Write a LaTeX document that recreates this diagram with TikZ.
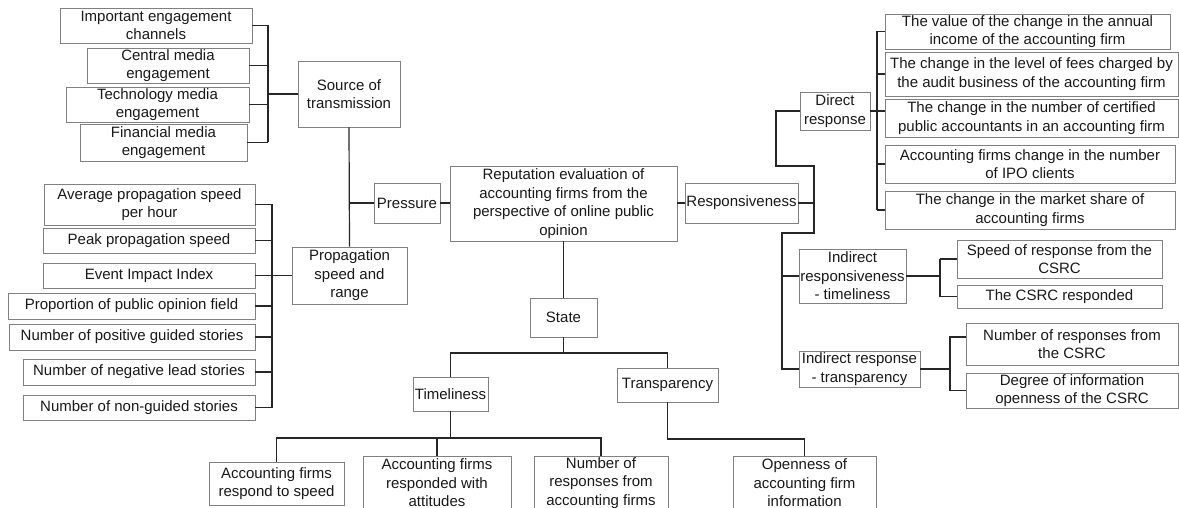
\documentclass[tikz,border=0pt]{standalone}
\usepackage{fontspec}
\setmainfont{Liberation Sans}
\newcommand{\mybox}[6]{%
  \pgfmathsetmacro\mbw{#4-#2}\pgfmathsetmacro\mbh{#5-#3}%
  \pgfmathsetmacro\mbcx{(#2+#4)/2}\pgfmathsetmacro\mbcy{(#3+#5)/2}%
  \node[box, minimum width=\mbw pt, minimum height=\mbh pt] (#1) at (\mbcx,\mbcy) {#6};}
\tikzset{
  box/.style={draw=black!50, line width=0.8pt, fill=white, inner sep=0pt, align=center,
    font=\fontsize{15}{18.5}\selectfont, text=black!90},
  conn/.style={draw=black!85, line width=1.2pt},
}
\begin{document}
\begin{tikzpicture}[x=1pt,y=-1pt]
\useasboundingbox (0,0) rectangle (1179,508);
\fill[white] (0,0) rectangle (1179,508);
% left top group
\mybox{A1}{60}{8}{252}{43}{Important engagement\\channels}
\mybox{A2}{87}{48}{249}{83}{Central media\\engagement}
\mybox{A3}{66}{87}{249}{122}{Technology media\\engagement}
\mybox{A4}{80}{124}{247}{161}{Financial media\\engagement}
\mybox{Src}{298}{61}{400}{127}{Source of\\transmission}
% left bottom group
\mybox{B1}{44}{184}{255}{225}{Average propagation speed\\per hour}
\mybox{B2}{43}{228}{255}{253}{Peak propagation speed}
\mybox{B3}{43}{263}{255}{288}{Event Impact Index}
\mybox{B4}{8}{293}{255}{319}{Proportion of public opinion field}
\mybox{B5}{9}{324}{255}{350}{Number of positive guided stories}
\mybox{B6}{23}{359}{255}{385}{Number of negative lead stories}
\mybox{B7}{23}{395}{255}{420}{Number of non-guided stories}
\mybox{Prop}{292}{247}{407}{304}{Propagation\\speed and\\range}
% centre
\mybox{Pr}{374}{183}{440}{223}{Pressure}
\mybox{Ctr}{450}{166}{677}{241}{Reputation evaluation of\\accounting firms from the\\perspective of online public\\opinion}
\mybox{Resp}{685}{183}{798}{223}{Responsiveness}
\mybox{St}{530}{298}{597}{337}{State}
\mybox{Tim}{413}{377}{488}{411}{Timeliness}
\mybox{Tr}{617}{368}{718}{402}{Transparency}
% bottom
\mybox{C1}{209}{462}{344}{505}{Accounting firms\\respond to speed}
\mybox{C2}{363}{456}{511}{510}{Accounting firms\\responded with\\attitudes}
\mybox{C3}{534}{456}{668}{510}{Number of\\responses from\\accounting firms}
\mybox{C4}{733}{456}{876}{510}{Openness of\\accounting firm\\information}
% right
\mybox{Dir}{800}{92}{870}{130}{Direct\\response}
\mybox{R1}{885}{14}{1170}{49}{The value of the change in the annual\\income of the accounting firm}
\mybox{R2}{885}{52}{1178}{96}{The change in the level of fees charged by\\the audit business of the accounting firm}
\mybox{R3}{885}{99}{1178}{137}{The change in the number of certified\\public accountants in an accounting firm}
\mybox{R4}{885}{145}{1175}{183}{Accounting firms change in the number\\of IPO clients}
\mybox{R5}{885}{191}{1175}{229}{The change in the market share of\\accounting firms}
\mybox{IRt}{799}{249}{906}{303}{Indirect\\responsiveness\\- timeliness}
\mybox{IRr}{799}{351}{920}{387}{Indirect response\\- transparency}
\mybox{S1}{957}{240}{1162}{278}{Speed of response from the\\CSRC}
\mybox{S2}{957}{285}{1162}{308}{The CSRC responded}
\mybox{T1}{966}{323}{1178}{365}{Number of responses from\\the CSRC}
\mybox{T2}{966}{373}{1178}{408}{Degree of information\\openness of the CSRC}
% coordinates
\coordinate (bA) at (268,0);
\coordinate (bB) at (272,0);
\coordinate (stY) at (563.5,353);
\coordinate (tY) at (0,438);
\coordinate (oY) at (0,439);
\coordinate (r1) at (776,166);
\coordinate (r2) at (814,233);
\coordinate (r3) at (782,233);
\coordinate (dB) at (877,0);
\coordinate (sB) at (940,0);
\coordinate (tB) at (950,0);
% left top connectors
\foreach \n in {A1,A2,A3,A4} {\draw[conn] (\n.east) -- (\n.east -| bA);}
\draw[conn] (A1.east -| bA) -- (A4.east -| bA);
\draw[conn] (Src.west) -- (Src.west -| bA);
% left bottom connectors
\foreach \n in {B1,B2,B3,B4,B5,B6,B7} {\draw[conn] (\n.east) -- (\n.east -| bB);}
\draw[conn] (B1.east -| bB) -- (B7.east -| bB);
\draw[conn] (Prop.west) -- (Prop.west -| bB);
% source / propagation / pressure
\draw[conn] (Src.south) -- (Prop.north);
\draw[conn] (Pr.west) -- (Pr.west -| Src.south);
\draw[conn] (Pr.east) -- (Pr.east -| Ctr.west);
\draw[conn] (Ctr.east |- Resp.west) -- (Resp.west);
% state
\draw[conn] (Ctr.south -| St.north) -- (St.north);
\draw[conn] (St.south) -- (stY);
\draw[conn] (Tim.north) |- (stY) -| (Tr.north);
% bottom
\draw[conn] (Tim.south) -- (Tim.south |- tY);
\draw[conn] (C1.north) -- (C1.north |- tY) -- (C3.north |- tY) -- (C3.north);
\draw[conn] (C2.north) -- (C2.north |- tY);
\draw[conn] (Tr.south) -- (Tr.south |- oY) -| (C4.north);
% right
\draw[conn] (Dir.west) -| (r1) -| (r2) -- (r3) |- (IRr.west);
\draw[conn] (Resp.east) -- (Resp.east -| r2);
\draw[conn] (IRt.west) -- (IRt.west -| r3);
\draw[conn] (Dir.east) -- (Dir.east -| R3.west);
\foreach \n in {R1,R2,R4,R5} {\draw[conn] (\n.west) -- (\n.west -| dB);}
\draw[conn] (R1.west -| dB) -- (R5.west -| dB);
\draw[conn] (IRt.east) -- (IRt.east -| sB);
\foreach \n in {S1,S2} {\draw[conn] (\n.west) -- (\n.west -| sB);}
\draw[conn] (S1.west -| sB) -- (S2.west -| sB);
\draw[conn] (IRr.east) -- (IRr.east -| tB);
\draw[conn] ([yshift=7pt]T1.west) -- ([yshift=7pt]T1.west -| tB) -- (T2.west -| tB) -- (T2.west);
\end{tikzpicture}
\end{document}
